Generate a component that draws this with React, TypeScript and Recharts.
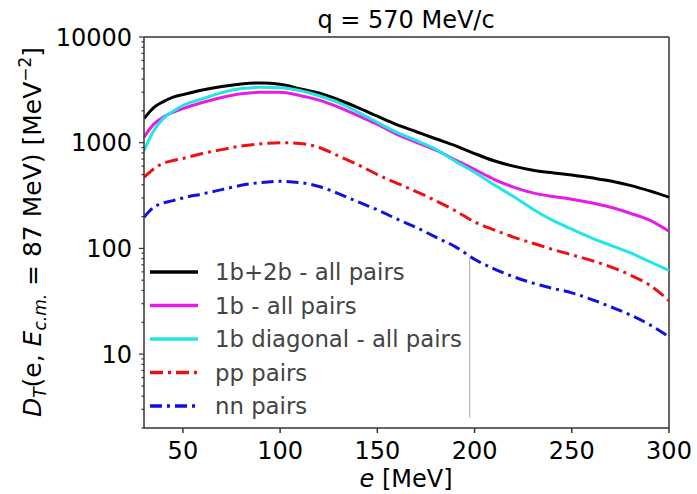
import React from 'react';
import { LineChart, Line, XAxis, YAxis, ReferenceLine } from 'recharts';

// energies e [MeV]
const energies = [30, 35, 40, 45, 50, 60, 70, 80, 90, 100, 110, 120, 130, 140, 150, 160, 170, 180, 190, 200, 210, 220, 230, 240, 250, 260, 270, 280, 290, 300];

const allPairs = [1690, 2150, 2450, 2700, 2850, 3150, 3400, 3600, 3680, 3570, 3250, 2950, 2550, 2150, 1780, 1480, 1270, 1090, 940, 790, 675, 600, 550, 520, 495, 465, 435, 395, 350, 305];
const oneBody = [1130, 1500, 1750, 1940, 2100, 2400, 2680, 2900, 3000, 3000, 2800, 2530, 2170, 1800, 1490, 1200, 1010, 850, 690, 560, 450, 380, 335, 310, 292, 270, 245, 215, 185, 145];
const oneBodyDiag = [840, 1300, 1700, 1980, 2250, 2600, 2980, 3250, 3340, 3310, 3120, 2780, 2400, 1950, 1560, 1250, 1050, 870, 670, 525, 400, 310, 235, 185, 152, 126, 107, 91, 75, 62];
const ppPairs = [471, 565, 640, 678, 710, 790, 860, 930, 975, 1000, 985, 900, 750, 620, 500, 414, 345, 283, 228, 178, 150, 128, 112, 98, 87, 77, 67, 56, 45, 32];
const nnPairs = [197, 245, 270, 283, 300, 328, 360, 395, 420, 432, 420, 385, 330, 276, 232, 190, 158, 128, 104, 79, 64, 54, 47, 42, 38, 33, 28, 23.5, 19, 14.6];

const xTicks = [50, 100, 150, 200, 250, 300];
const yMajor = [10, 100, 1000, 10000];
const yTicks = [2, 3, 4, 5, 6, 7, 8, 9, 10, 20, 30, 40, 50, 60, 70, 80, 90, 100, 200, 300, 400, 500, 600, 700, 800, 900, 1000, 2000, 3000, 4000, 5000, 6000, 7000, 8000, 9000, 10000];

const series = [
  { key: 'allPairs', name: '1b+2b - all pairs', color: '#000000', dash: undefined },
  { key: 'oneBody', name: '1b - all pairs', color: '#e81ce8', dash: undefined },
  { key: 'oneBodyDiag', name: '1b diagonal - all pairs', color: '#22e6e6', dash: undefined },
  { key: 'ppPairs', name: 'pp pairs', color: '#ee1111', dash: '13 5 3 5' },
  { key: 'nnPairs', name: 'nn pairs', color: '#1111dd', dash: '12 5 3 5' },
];

const data = energies.map((e, i) => ({
  e,
  allPairs: allPairs[i],
  oneBody: oneBody[i],
  oneBodyDiag: oneBodyDiag[i],
  ppPairs: ppPairs[i],
  nnPairs: nnPairs[i],
}));

const FONT = '"DejaVu Sans", sans-serif';
const TICK_SIZE = 5;
const TICK_MARGIN = 7;

const LogTick = (props: any) => {
  const { x, y, payload } = props;
  const axisX = x + TICK_SIZE + TICK_MARGIN;
  const major = yMajor.includes(payload.value);
  return (
    <g>
      <line x1={axisX} x2={axisX - (major ? 5 : 2.5)} y1={y} y2={y} stroke="#333" strokeWidth={1.2} />
      {major && (
        <text x={x} y={y} dy="0.355em" textAnchor="end" fontSize={24} fontFamily={FONT} fill="#000">
          {payload.value}
        </text>
      )}
    </g>
  );
};

const App = () => {
  return (
    <div style={{ position: 'absolute', left: 0, top: 0, width: 697, height: 494, background: '#fff' }}>
      <LineChart width={697} height={494} data={data} margin={{ top: 37, right: 28, bottom: 0, left: 0 }}>
        <XAxis
          dataKey="e"
          type="number"
          domain={[30, 300]}
          allowDataOverflow
          ticks={xTicks}
          height={66}
          stroke="#333"
          strokeWidth={1.5}
          tickSize={TICK_SIZE}
          tickMargin={9}
          tick={{ fontSize: 24, fontFamily: FONT, fill: '#000' }}
        />
        <YAxis
          type="number"
          scale="log"
          domain={[2, 10000]}
          allowDataOverflow
          ticks={yTicks}
          interval={0}
          width={144}
          stroke="#333"
          strokeWidth={1.5}
          tickLine={false}
          tickSize={TICK_SIZE}
          tickMargin={TICK_MARGIN}
          tick={<LogTick />}
        />
        <ReferenceLine y={10000} stroke="#333" strokeWidth={1.5} />
        <ReferenceLine x={300} stroke="#333" strokeWidth={1.5} />
        <ReferenceLine
          segment={[{ x: 197.5, y: 80 }, { x: 197.5, y: 2.5 }]}
          stroke="#aaaaaa"
          strokeWidth={1}
        />
        {series.map((s) => (
          <Line
            key={s.key}
            dataKey={s.key}
            type="monotone"
            stroke={s.color}
            strokeWidth={3}
            strokeDasharray={s.dash}
            dot={false}
            isAnimationActive={false}
          />
        ))}
      </LineChart>
      <svg width={697} height={494} style={{ position: 'absolute', left: 0, top: 0, pointerEvents: 'none' }}>
        <text x={406} y={28} textAnchor="middle" fontSize={24} fontFamily={FONT} fill="#000">
          q = 570 MeV/c
        </text>
        <text x={406} y={487} textAnchor="middle" fontSize={24} fontFamily={FONT} fill="#000">
          <tspan fontStyle="italic">e</tspan> [MeV]
        </text>
        <text transform="translate(41,232) rotate(-90)" textAnchor="middle" fontSize={25} fontFamily={FONT} fill="#000">
          <tspan fontStyle="italic">D</tspan>
          <tspan fontStyle="italic" fontSize={17} dy={5}>T</tspan>
          <tspan dy={-5}>(e, </tspan>
          <tspan fontStyle="italic">E</tspan>
          <tspan fontStyle="italic" fontSize={17} dy={5}>c.m.</tspan>
          <tspan dy={-5}> = 87 MeV) [MeV</tspan>
          <tspan fontSize={17} dy={-10}>−2</tspan>
          <tspan dy={10}>]</tspan>
        </text>
        {series.map((s, i) => {
          const ly = 272 + i * 33.5;
          return (
            <g key={s.key}>
              <line x1={150} x2={198} y1={ly} y2={ly} stroke={s.color} strokeWidth={3.5} strokeDasharray={s.dash} />
              <text x={215} y={ly + 8} fontSize={22.8} fontFamily={FONT} fill="#444">
                {s.name}
              </text>
            </g>
          );
        })}
      </svg>
    </div>
  );
};

export default App;
